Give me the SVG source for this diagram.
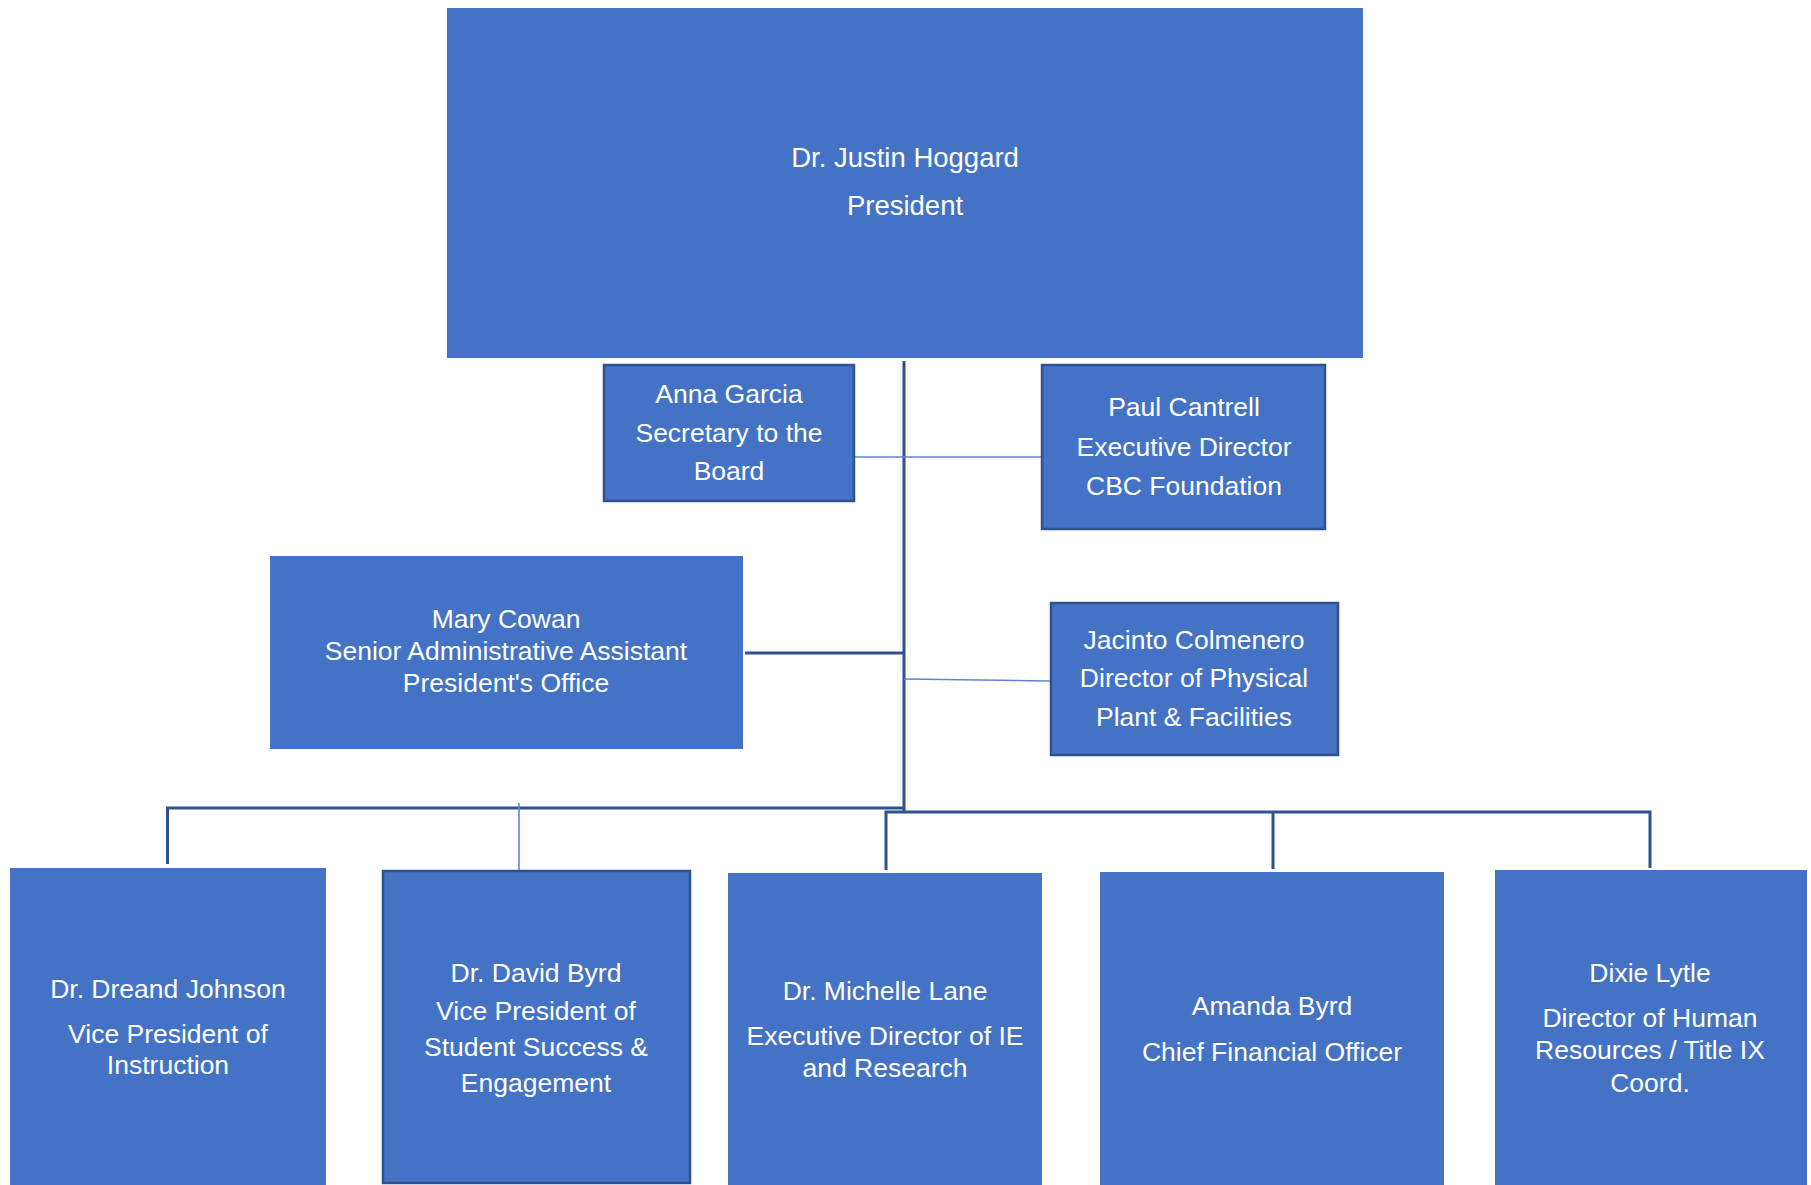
<svg xmlns="http://www.w3.org/2000/svg" width="1811" height="1185" viewBox="0 0 1811 1185">
<style>
.box{fill:#4472C4}
.bd{fill:#4472C4;stroke:#2F528F;stroke-width:2.5}
.t{font-family:"Liberation Sans",Arial,sans-serif;font-size:26.5px;fill:#FFFFFF;text-anchor:middle}
.tp{font-size:27.5px}
.dk{stroke:#2F528F;stroke-width:3;fill:none}
.lt{stroke:#5F86CC;stroke-width:1.6;fill:none}
</style>
<rect width="1811" height="1185" fill="#FFFFFF"/>
<g id="connectors">
<line class="dk" x1="904" y1="361" x2="904" y2="812"/>
<line class="lt" x1="854" y1="457" x2="1042" y2="457"/>
<line class="dk" x1="745" y1="653" x2="904" y2="653"/>
<line class="lt" x1="904" y1="679" x2="1050" y2="681"/>
<polyline class="dk" points="904,808 167.5,808 167.5,864"/>
<line class="lt" x1="519" y1="803" x2="519" y2="871"/>
<polyline class="dk" points="886,870 886,812 1650,812 1650,868"/>
<line class="dk" x1="1273" y1="812" x2="1273" y2="869"/>
</g>
<g id="president">
<rect class="box" x="447" y="8" width="916" height="350"/>
<text class="t tp" x="905" y="167">Dr. Justin Hoggard</text>
<text class="t tp" x="905" y="215">President</text>
</g>
<g id="anna">
<rect class="bd" x="604" y="365" width="250" height="136"/>
<text class="t" x="729" y="403">Anna Garcia</text>
<text class="t" x="729" y="442">Secretary to the</text>
<text class="t" x="729" y="480">Board</text>
</g>
<g id="paul">
<rect class="bd" x="1042" y="365" width="283" height="164"/>
<text class="t" x="1184" y="416">Paul Cantrell</text>
<text class="t" x="1184" y="456">Executive Director</text>
<text class="t" x="1184" y="495">CBC Foundation</text>
</g>
<g id="mary">
<rect class="box" x="270" y="556" width="473" height="193"/>
<text class="t" x="506" y="628">Mary Cowan</text>
<text class="t" x="506" y="660">Senior Administrative Assistant</text>
<text class="t" x="506" y="692">President's Office</text>
</g>
<g id="jacinto">
<rect class="bd" x="1051" y="603" width="287" height="152"/>
<text class="t" x="1194" y="649">Jacinto Colmenero</text>
<text class="t" x="1194" y="687">Director of Physical</text>
<text class="t" x="1194" y="726">Plant &amp; Facilities</text>
</g>
<g id="dreand">
<rect class="box" x="10" y="868" width="316" height="320"/>
<text class="t" x="168" y="998">Dr. Dreand Johnson</text>
<text class="t" x="168" y="1043">Vice President of</text>
<text class="t" x="168" y="1074">Instruction</text>
</g>
<g id="david">
<rect class="bd" x="383" y="871" width="307" height="312"/>
<text class="t" x="536" y="982">Dr. David Byrd</text>
<text class="t" x="536" y="1020">Vice President of</text>
<text class="t" x="536" y="1056">Student Success &amp;</text>
<text class="t" x="536" y="1092">Engagement</text>
</g>
<g id="michelle">
<rect class="box" x="728" y="873" width="314" height="315"/>
<text class="t" x="885" y="1000">Dr. Michelle Lane</text>
<text class="t" x="885" y="1045">Executive Director of IE</text>
<text class="t" x="885" y="1077">and Research</text>
</g>
<g id="amanda">
<rect class="box" x="1100" y="872" width="344" height="316"/>
<text class="t" x="1272" y="1015">Amanda Byrd</text>
<text class="t" x="1272" y="1061">Chief Financial Officer</text>
</g>
<g id="dixie">
<rect class="box" x="1495" y="870" width="312" height="318"/>
<text class="t" x="1650" y="982">Dixie Lytle</text>
<text class="t" x="1650" y="1027">Director of Human</text>
<text class="t" x="1650" y="1059">Resources / Title IX</text>
<text class="t" x="1650" y="1092">Coord.</text>
</g>
</svg>
